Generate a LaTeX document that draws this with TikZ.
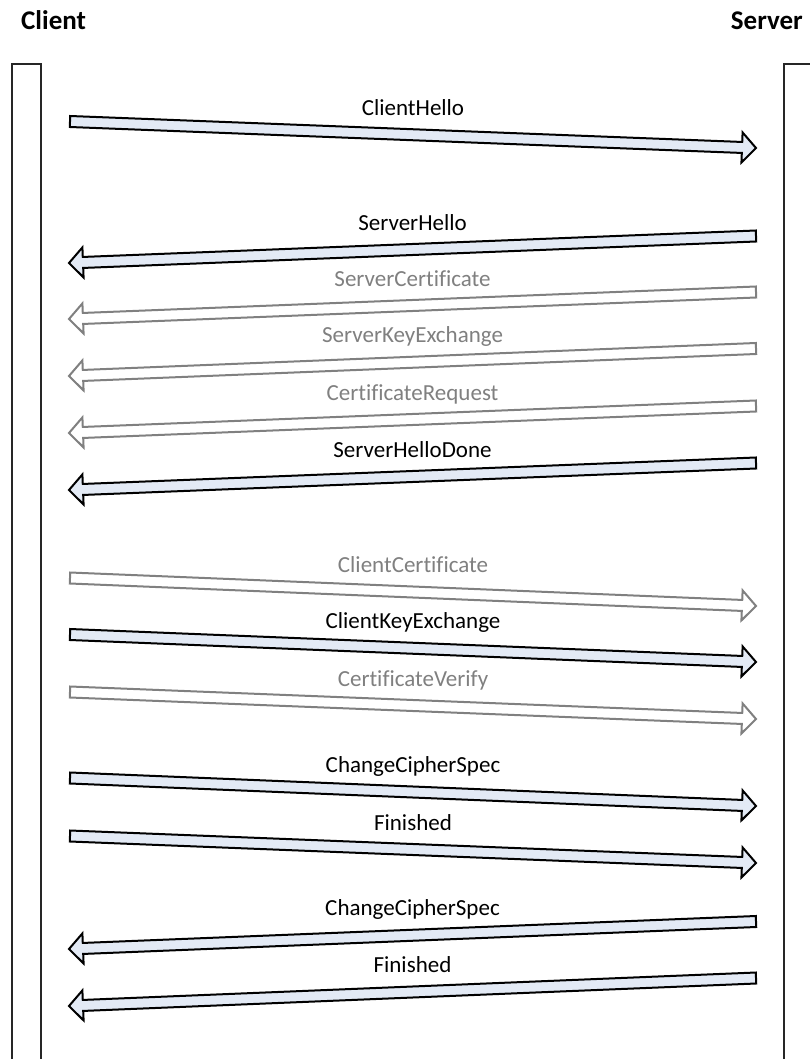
\documentclass[tikz,border=0pt]{standalone}
\usepackage{fontspec}
\setmainfont{Carlito}[Ligatures=CommonOff]
\usetikzlibrary{calc}

\definecolor{msgfill}{RGB}{227,234,245}
\definecolor{optgray}{RGB}{128,128,128}

\tikzset{
  lifeline/.style={draw=black!85, line width=2pt},
  msg/.style={draw=black, fill=msgfill, line width=2pt, line join=miter},
  optmsg/.style={draw=optgray, fill=white, line width=2pt, line join=miter},
  lbl/.style={anchor=base, inner sep=0pt, text=black,
    font=\fontsize{23}{27}\selectfont},
  optlbl/.style={lbl, text=optgray},
  party/.style={anchor=base, inner sep=0pt,
    font=\fontsize{27}{32}\selectfont\bfseries},
}

% block arrow from tail (#3-t) to tip (#3-h), labelled above its middle
% #1 arrow style, #2 label style, #3 name, #4 tail, #5 tip, #6 text
\newcommand\msgarrow[6]{%
  \coordinate (#3-t) at #4;
  \coordinate (#3-h) at #5;
  \coordinate (#3-b) at ($(#3-h)!14pt!(#3-t)$);
  \draw[#1] ($(#3-t)!5.5pt!90:(#3-h)$) -- ($(#3-b)!5.5pt!90:(#3-h)$)
    -- ($(#3-b)!15pt!90:(#3-h)$) -- (#3-h)
    -- ($(#3-b)!15pt!-90:(#3-h)$) -- ($(#3-b)!5.5pt!-90:(#3-h)$)
    -- ($(#3-t)!5.5pt!-90:(#3-h)$) -- cycle;
  \node[#2, yshift=19.5pt] (#3-l) at ($(#3-t)!0.5!(#3-h)$) {#6};
}

\begin{document}
\begin{tikzpicture}[x=1pt, y=-1pt]
  \path[use as bounding box, clip] (0,0) rectangle (810,1059);
  \fill[white] (0,0) rectangle (810,1059);

  % parties
  \node[party, anchor=base west] (client) at (21,30) {Client};
  \node[party, anchor=base east] (server) at (803,30) {Server};

  % lifelines
  \draw[lifeline] (12,1070) -- (12,64) -- (41,64) -- (41,1070);
  \draw[lifeline] (784,1070) -- (784,64) -- (820,64);

  % handshake messages
  \msgarrow{msg}{lbl}{chello}{(70,121.5)}{(756,148)}{ClientHello}
  \msgarrow{msg}{lbl}{shello}{(756,236)}{(69,263)}{ServerHello}
  \msgarrow{optmsg}{optlbl}{scert}{(756,292)}{(69,319)}{ServerCertificate}
  \msgarrow{optmsg}{optlbl}{skex}{(756,348.5)}{(69,376)}{ServerKeyExchange}
  \msgarrow{optmsg}{optlbl}{creq}{(756,406)}{(69,433)}{CertificateRequest}
  \msgarrow{msg}{lbl}{shdone}{(756,463)}{(69,490)}{ServerHelloDone}
  \msgarrow{optmsg}{optlbl}{ccert}{(70,578)}{(756,606)}{ClientCertificate}
  \msgarrow{msg}{lbl}{ckex}{(70,634.5)}{(756,662)}{ClientKeyExchange}
  \msgarrow{optmsg}{optlbl}{cver}{(70,692)}{(756,719)}{CertificateVerify}
  \msgarrow{msg}{lbl}{cccs}{(70,778)}{(756,806)}{ChangeCipherSpec}
  \msgarrow{msg}{lbl}{cfin}{(70,836)}{(756,863)}{Finished}
  \msgarrow{msg}{lbl}{sccs}{(756,921.5)}{(69,949)}{ChangeCipherSpec}
  \msgarrow{msg}{lbl}{sfin}{(756,978)}{(69,1006)}{Finished}
\end{tikzpicture}
\end{document}
